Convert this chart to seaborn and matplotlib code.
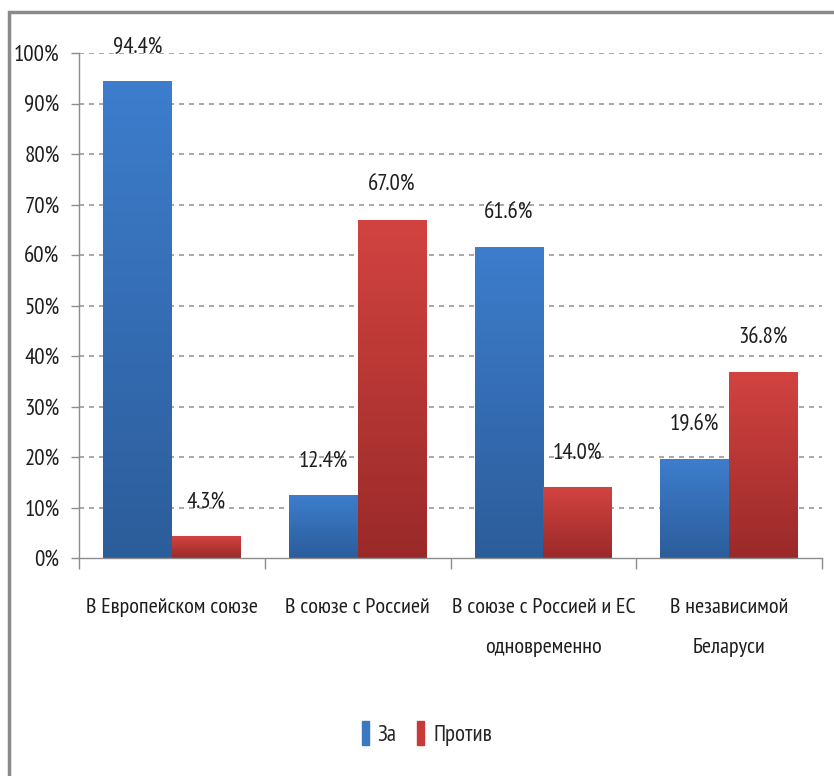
import numpy as np
import pandas as pd
import matplotlib
matplotlib.use("Agg")
import matplotlib.pyplot as plt
import matplotlib.patches as mpatches
from matplotlib.colors import LinearSegmentedColormap
import seaborn as sns

# данные
categories = ["В Европейском союзе", "В союзе с Россией",
              "В союзе с Россией и ЕС\nодновременно", "В независимой\nБеларуси"]
groups = ["За", "Против"]
za_values = [94.4, 12.4, 61.6, 19.6]
protiv_values = [4.3, 67.0, 14.0, 36.8]
y_ticks = list(range(0, 101, 10))

df = pd.DataFrame({
    "category": categories * 2,
    "group": [groups[0]] * 4 + [groups[1]] * 4,
    "value": za_values + protiv_values,
})

sns.set_theme(style="white")
plt.rcParams["font.family"] = ["PT Sans Narrow", "DejaVu Sans"]

colors = {"За": "#3a78c4", "Против": "#c83a38"}
grad = {
    "За": ["#3d7dcc", "#2c5d9b"],
    "Против": ["#d24340", "#9a2a29"],
}

fig = plt.figure(figsize=(8.34, 7.76), dpi=100)
ax = fig.add_axes([0.0947, 0.2809, 0.891, 0.6508])

sns.barplot(data=df, x="category", y="value", hue="group", hue_order=groups,
            palette=colors, width=0.74, saturation=1, legend=False, ax=ax,
            edgecolor="none")

ax.set_ylim(0, 100)
ax.set_xlim(-0.5, 3.5)

# градиентная заливка столбцов
for container, g in zip(ax.containers, groups):
    cmap = LinearSegmentedColormap.from_list(g, grad[g][::-1])
    for bar in container:
        x0, y0 = bar.get_x(), bar.get_y()
        w, h = bar.get_width(), bar.get_height()
        img = ax.imshow(np.linspace(1, 0, 100).reshape(-1, 1), cmap=cmap,
                        extent=[x0, x0 + w, y0, y0 + h], aspect="auto",
                        zorder=bar.get_zorder() + 0.1, origin="upper")
        img.set_clip_path(bar)
    ax.bar_label(container, labels=[f"{v:.1f}%" for v in container.datavalues],
                 padding=17, fontsize=16.5, color="#1e1e1e")

ax.set_aspect("auto")
ax.set_yticks(y_ticks)
ax.set_yticklabels([f"{t}%" for t in y_ticks], fontsize=16.5, color="#1e1e1e")
ax.set_xlabel("")
ax.set_ylabel("")
ax.tick_params(axis="x", length=0, pad=29, labelsize=16, labelcolor="#1e1e1e")
ax.set_xticks(range(4))
ax.set_xticklabels(categories, linespacing=2.4)
ax.set_xticks([-0.5, 0.5, 1.5, 2.5, 3.5], minor=True)
ax.tick_params(axis="x", which="minor", length=8, width=1, color="#8c8c8c",
               direction="out", bottom=True)
ax.tick_params(axis="y", length=6, width=1, color="#8c8c8c", direction="out",
               left=True, pad=8)

for t in y_ticks[1:]:
    ax.axhline(t, color="#9a9a9a", linestyle=(0, (3, 3)), linewidth=1.2, zorder=0)

for side in ["top", "right"]:
    ax.spines[side].set_visible(False)
for side in ["left", "bottom"]:
    ax.spines[side].set_color("#8c8c8c")
    ax.spines[side].set_linewidth(1)

# легенда
handles = [mpatches.Patch(color=colors[g], label=g) for g in groups]
fig.legend(handles=handles, loc="center", bbox_to_anchor=(0.512, 0.055), ncol=2,
           frameon=False, fontsize=16.5, handlelength=0.3, handleheight=1.2,
           handletextpad=0.4, columnspacing=0.9)

# рамка
fig.patches.append(mpatches.Rectangle((9 / 834, -0.1), 1.2, 1 - 12 / 776 + 0.1,
                                      transform=fig.transFigure, fill=False,
                                      edgecolor="#8a8a8a", linewidth=2.5))

fig.savefig("out.png", dpi=100)
